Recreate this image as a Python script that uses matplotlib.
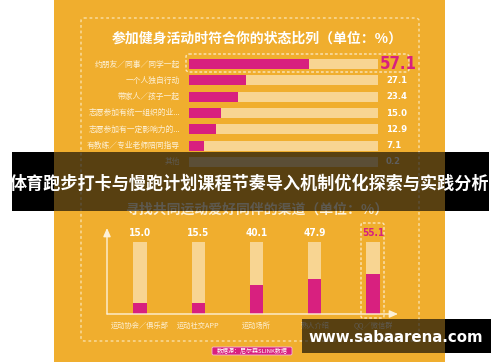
import matplotlib
matplotlib.use("Agg")
import matplotlib.pyplot as plt
from matplotlib.patches import Rectangle, FancyBboxPatch
from matplotlib.transforms import offset_copy

plt.rcParams['font.family'] = ['Noto Sans CJK SC', 'DejaVu Sans']

# -------------------------------------------------------------
# Data
# -------------------------------------------------------------
state_labels = ["约朋友／同事／同学一起", "一个人独自行动", "带家人／孩子一起",
                "志愿参加有统一组织的业...", "志愿参加有一定影响力的...",
                "有教练／专业老师陪同指导", "其他"]
state_values = [57.1, 27.1, 23.4, 15.0, 12.9, 7.1, 0.2]

channel_labels = ["运动协会／俱乐部", "运动社交APP", "运动场所", "熟人介绍", "QQ／微信群"]
channel_values = [15.0, 15.5, 40.1, 47.9, 55.1]

title_top = "参加健身活动时符合你的状态比列（单位：%）"
title_bottom = "寻找共同运动爱好同伴的渠道（单位：%）"
banner = "体育跑步打卡与慢跑计划课程节奏导入机制优化探索与实践分析"
source = "数据源：尼尔森SLINK数据"
site = "www.sabaarena.com"

# -------------------------------------------------------------
# Style
# -------------------------------------------------------------
W, H = 500, 362
ORANGE = "#F0AE2E"
MAGENTA = "#D8207F"
CREAM = "#F8D592"
LABEL = "#FDF1D8"
NUM = dict(family=["DejaVu Sans"], fontstretch="condensed", fontweight="bold")


def box(x0, y0, x1, y1):
    # pixel box (top-left origin) -> figure fraction rect
    return [x0 / W, 1 - y1 / H, (x1 - x0) / W, (y1 - y0) / H]


fig = plt.figure(figsize=(W / 100, H / 100), dpi=100)
fig.patch.set_facecolor("white")

# background / decor layer
bg = fig.add_axes([0, 0, 1, 1], zorder=-1)
bg.set_xlim(0, W)
bg.set_ylim(H, 0)
bg.axis("off")
bg.add_patch(Rectangle((54, 0), 391, H, color=ORANGE, lw=0))
bg.add_patch(FancyBboxPatch((81, 18), 338, 323, boxstyle="round,pad=0,rounding_size=3",
                            fill=False, ec="#F9DFA8", lw=1.0, ls=(0, (2, 2))))
bg.text(257, 39, title_top, color="white", fontsize=10, fontweight="bold",
        ha="center", va="center")
bg.text(257, 210, title_bottom, color="#FDF1D8", fontsize=10, fontweight="bold",
        ha="center", va="center")
# highlight boxes
bg.add_patch(FancyBboxPatch((186, 54), 223, 18, boxstyle="round,pad=0,rounding_size=3",
                            fill=False, ec="#FBE6BC", lw=1.0, ls=(0, (2, 1.5))))
bg.add_patch(FancyBboxPatch((361, 223), 23, 95, boxstyle="round,pad=0,rounding_size=2",
                            fill=False, ec="#FBE6BC", lw=1.0, ls=(0, (2, 1.5))))
# source tag
bg.add_patch(FancyBboxPatch((212, 347), 80, 8, boxstyle="round,pad=0,rounding_size=1.5",
                            fc=MAGENTA, ec="#F5B8D4", lw=0.6))
bg.text(252, 351, source, color="white", fontsize=4.3, ha="center", va="center")

# -------------------------------------------------------------
# Horizontal bars
# -------------------------------------------------------------
TRACK = 90
ax1 = fig.add_axes(box(189, 56, 378, 170))
ax1.set_facecolor("none")
rows = list(range(len(state_values)))
ax1.barh(rows, [TRACK] * len(rows), height=0.62, color=CREAM, lw=0)
ax1.barh(rows, state_values, height=0.62, color=MAGENTA, lw=0)
ax1.set_xlim(0, TRACK)
ax1.set_ylim(len(rows) - 0.5, -0.5)
ax1.axis("off")
lab_tr = offset_copy(ax1.transData, fig=fig, x=-9, y=0, units="dots")
val_tr = offset_copy(ax1.transData, fig=fig, x=8, y=0, units="dots")
for i, (lab, v) in enumerate(zip(state_labels, state_values)):
    ax1.text(0, i, lab, transform=lab_tr, ha="right", va="center",
             color=LABEL, fontsize=5.6)
    if i == 0:
        ax1.text(TRACK, i, f"{v:.1f}",
                 transform=offset_copy(ax1.transData, fig=fig, x=2, y=0, units="dots"),
                 ha="left", va="center", color=MAGENTA, fontsize=12, **NUM)
    else:
        ax1.text(TRACK, i, f"{v:.1f}", transform=val_tr, ha="left", va="center",
                 color="white", fontsize=6.8, **NUM)

# -------------------------------------------------------------
# Vertical bars
# -------------------------------------------------------------
ax2 = fig.add_axes(box(107, 228, 398, 314))
ax2.set_facecolor("none")
cols = list(range(len(channel_values)))
ax2.bar(cols, [100] * len(cols), width=0.23, color=CREAM, lw=0)
ax2.bar(cols, channel_values, width=0.23, color=MAGENTA, lw=0)
ax2.set_xlim(-0.567, 4.43)
ax2.set_ylim(0, 119.4)
ax2.axis("off")
ax2.annotate("", xy=(0, 1), xytext=(0, 0), xycoords="axes fraction",
             arrowprops=dict(arrowstyle="-|>,head_length=0.5,head_width=0.22",
                             color="#FDF1D8", lw=1.0, shrinkA=0, shrinkB=0))
ax2.annotate("", xy=(1, 0), xytext=(0, 0), xycoords="axes fraction",
             arrowprops=dict(arrowstyle="-|>,head_length=0.5,head_width=0.22",
                             color="#FDF1D8", lw=1.0, shrinkA=0, shrinkB=0))
cat_tr = offset_copy(ax2.transData, fig=fig, x=0, y=-12, units="dots")
for i, (lab, v) in enumerate(zip(channel_labels, channel_values)):
    last = i == len(channel_values) - 1
    ax2.text(i, 112.5, f"{v:.1f}", ha="center", va="center",
             color=MAGENTA if last else "white", fontsize=7.2, **NUM)
    ax2.text(i, 0, lab, transform=cat_tr, ha="center", va="center",
             color=LABEL, fontsize=5.2)

# -------------------------------------------------------------
# Overlays
# -------------------------------------------------------------
top = fig.add_axes([0, 0, 1, 1], zorder=10)
top.set_xlim(0, W)
top.set_ylim(H, 0)
top.axis("off")
top.set_facecolor("none")
for (x0, y0, x1, y1) in [(12, 152, 489, 211), (302, 319, 491, 353)]:
    top.add_patch(Rectangle((x0, y0), x1 - x0, y1 - y0, color="black", alpha=0.63, lw=0))
    # outside the poster the band is solid black
    if x1 > 445:
        top.add_patch(Rectangle((445, y0), x1 - 445, y1 - y0, color="black", lw=0))
    if x0 < 54:
        top.add_patch(Rectangle((x0, y0), 54 - x0, y1 - y0, color="black", lw=0))
top.text(250, 184, banner, color="white", fontsize=12.3, fontweight="bold",
         ha="center", va="center")
top.text(396, 337, site, color="white", fontsize=10.8, fontweight="bold",
         ha="center", va="center", family=["DejaVu Sans"])

fig.savefig("out.png", dpi=100)
